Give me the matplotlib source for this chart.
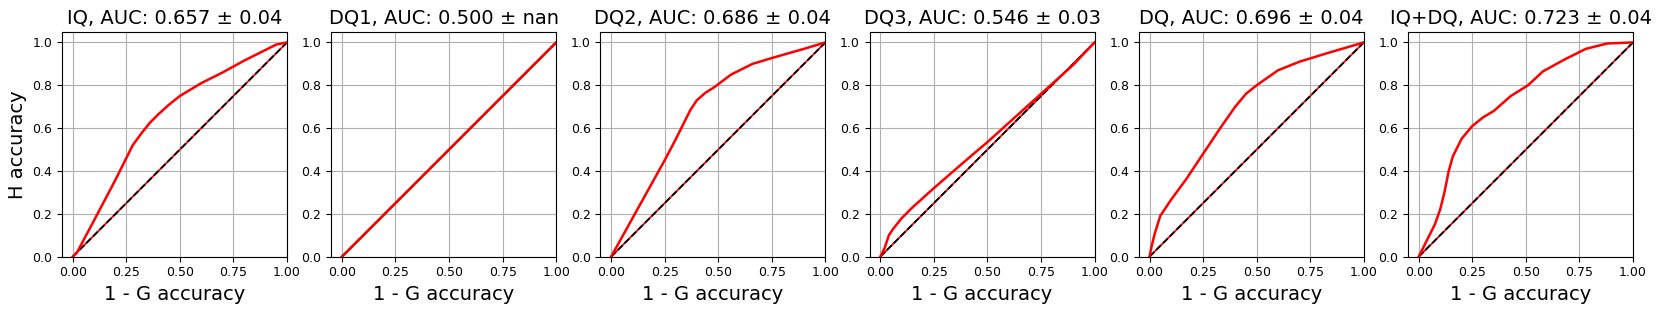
import matplotlib
matplotlib.use('Agg')
import matplotlib.pyplot as plt

# -------------------------------------------------------------------------------------------------------------------- #
# Data
# -------------------------------------------------------------------------------------------------------------------- #

titles = ['IQ, AUC: 0.657 ± 0.04', 'DQ1, AUC: 0.500 ± nan', 'DQ2, AUC: 0.686 ± 0.04',
          'DQ3, AUC: 0.546 ± 0.03', 'DQ, AUC: 0.696 ± 0.04', 'IQ+DQ, AUC: 0.723 ± 0.04']

iq_x = [0, 0.02, 0.1, 0.2, 0.25, 0.28, 0.32, 0.36, 0.4, 0.45, 0.5, 0.6, 0.7, 0.8, 0.9, 0.95, 1.0]
iq_y = [0, 0.02, 0.17, 0.36, 0.46, 0.52, 0.575, 0.625, 0.665, 0.71, 0.75, 0.81, 0.86, 0.915, 0.965, 0.99, 1.0]

dq1_x = [0, 1.0]
dq1_y = [0, 1.0]

dq2_x = [0, 0.1, 0.2, 0.25, 0.3, 0.34, 0.37, 0.4, 0.44, 0.48, 0.56, 0.66, 0.76, 0.9, 1.0]
dq2_y = [0, 0.18, 0.36, 0.45, 0.545, 0.625, 0.685, 0.73, 0.765, 0.79, 0.85, 0.90, 0.93, 0.97, 1.0]

dq3_x = [0, 0.02, 0.04, 0.06, 0.1, 0.15, 0.25, 0.4, 0.5, 0.6, 0.75, 0.9, 1.0]
dq3_y = [0, 0.04, 0.1, 0.13, 0.18, 0.23, 0.32, 0.45, 0.535, 0.625, 0.76, 0.895, 1.0]

dq_x = [0, 0.01, 0.025, 0.05, 0.1, 0.17, 0.25, 0.33, 0.4, 0.45, 0.5, 0.6, 0.7, 0.83, 1.0]
dq_y = [0, 0.05, 0.11, 0.19, 0.265, 0.36, 0.48, 0.6, 0.70, 0.76, 0.80, 0.87, 0.91, 0.95, 1.0]

iqdq_x = [0, 0.02, 0.045, 0.075, 0.1, 0.12, 0.14, 0.16, 0.2, 0.25, 0.3, 0.35, 0.43, 0.51, 0.58, 0.68, 0.78, 0.88, 1.0]
iqdq_y = [0, 0.04, 0.09, 0.15, 0.22, 0.3, 0.4, 0.47, 0.55, 0.61, 0.65, 0.68, 0.75, 0.80, 0.865, 0.92, 0.97, 0.995, 1.0]

curves = [(iq_x, iq_y), (dq1_x, dq1_y), (dq2_x, dq2_y), (dq3_x, dq3_y), (dq_x, dq_y), (iqdq_x, iqdq_y)]
chance = [0, 1]

# -------------------------------------------------------------------------------------------------------------------- #
# Plot
# -------------------------------------------------------------------------------------------------------------------- #

W, H = 1660, 311
fig = plt.figure(figsize=(W / 100, H / 100), dpi=100)

for i, (title, (cx, cy)) in enumerate(zip(titles, curves)):
    left = 62 + i * 269.2
    ax = fig.add_axes([left / W, (H - 256.7) / H, 225 / W, 225 / H])
    # chance line: red underneath, black dashes on top
    ax.plot(chance, chance, color='red', linewidth=1.3)
    ax.plot(chance, chance, 'k--', linewidth=1.3)
    ax.plot(cx, cy, color='red', linewidth=1.8)
    ax.set_xlim([-0.05, 1.0])
    ax.set_ylim([0.0, 1.05])
    ax.set_xticks([0, 0.25, 0.5, 0.75, 1.0])
    ax.set_yticks([0, 0.2, 0.4, 0.6, 0.8, 1.0])
    ax.grid(True)
    ax.tick_params(labelsize=9)
    ax.set_title(title, fontsize=14)
    ax.set_xlabel('1 - G accuracy', fontsize=14)
    if i == 0:
        ax.set_ylabel('H accuracy', fontsize=14)

fig.savefig('out.png', dpi=100)
